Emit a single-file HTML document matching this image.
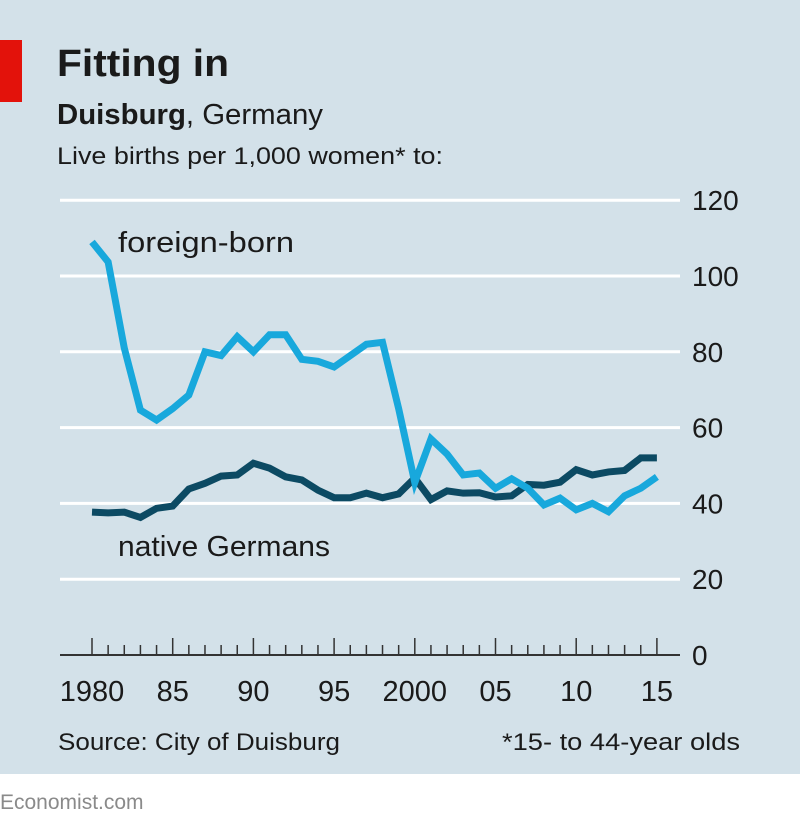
<!DOCTYPE html>
<html><head><meta charset="utf-8"><style>
body{margin:0;width:800px;height:825px;overflow:hidden;background:#fff;font-family:"Liberation Sans","DejaVu Sans",sans-serif}
#panel{position:absolute;left:0;top:0;width:800px;height:774px;background:#d3e1e9}
</style></head><body>
<div id="panel"></div>
<svg width="800" height="825" style="position:absolute;left:0;top:0">
<rect x="0" y="40" width="22" height="62" fill="#e3120b"/>
<text x="57" y="76" font-size="38" font-weight="bold" fill="#1a1a1a" textLength="172" lengthAdjust="spacingAndGlyphs">Fitting in</text>
<text x="57" y="124" font-size="29" fill="#1a1a1a" textLength="266" lengthAdjust="spacingAndGlyphs"><tspan font-weight="bold">Duisburg</tspan>, Germany</text>
<text x="57" y="164" font-size="24" fill="#1a1a1a" textLength="386" lengthAdjust="spacingAndGlyphs">Live births per 1,000 women* to:</text>
<g id="grid"></g><g id="ticks"></g><g id="lines"></g>
<text x="118" y="252" font-size="29" fill="#1a1a1a" textLength="176" lengthAdjust="spacingAndGlyphs">foreign-born</text>
<text x="118" y="556" font-size="29" fill="#1a1a1a" textLength="212" lengthAdjust="spacingAndGlyphs">native Germans</text>
<text x="58" y="750" font-size="24" fill="#1a1a1a" textLength="282" lengthAdjust="spacingAndGlyphs">Source: City of Duisburg</text>
<text x="502" y="750" font-size="24" fill="#1a1a1a" textLength="238" lengthAdjust="spacingAndGlyphs">*15- to 44-year olds</text>
<text x="0" y="809" font-size="21" fill="#8a8a8a">Economist.com</text>
</svg>
<script>
const years=[1980,1981,1982,1983,1984,1985,1986,1987,1988,1989,1990,1991,1992,1993,1994,1995,1996,1997,1998,1999,2000,2001,2002,2003,2004,2005,2006,2007,2008,2009,2010,2011,2012,2013,2014,2015];
const foreignBorn=[109,103.7,81,64.6,62,65,68.6,80,79,84,80,84.5,84.5,78,77.5,76,79,82,82.5,65,45.5,57,53,47.5,48,44,46.5,44,39.6,41.4,38.3,40,37.8,42,44,47];
const nativeGermans=[37.7,37.5,37.7,36.3,38.7,39.3,43.8,45.3,47.2,47.5,50.6,49.3,47,46.2,43.5,41.5,41.5,42.7,41.5,42.5,46.7,41,43.3,42.7,42.8,41.7,42,45,44.8,45.6,48.9,47.5,48.3,48.7,52,52];
const yTicks=[0,20,40,60,80,100,120];
const xLabels=[[1980,"1980"],[1985,"85"],[1990,"90"],[1995,"95"],[2000,"2000"],[2005,"05"],[2010,"10"],[2015,"15"]];
const NS="http://www.w3.org/2000/svg";
const X=y=>92+(y-1980)*16.14, Y=v=>655-v*3.79;
function mk(t,a,p){const e=document.createElementNS(NS,t);for(const k in a)e.setAttribute(k,a[k]);p.appendChild(e);return e;}
const g=document.getElementById('grid'),tk=document.getElementById('ticks'),ln=document.getElementById('lines');
yTicks.forEach(v=>{
 const l=mk('line',{x1:60,x2:680,y1:Y(v),y2:Y(v),stroke:v===0?'#333':'#fff','stroke-width':v===0?2:3},g);
 
 
 const t=mk('text',{x:692,y:Y(v)+10,'font-size':28,fill:'#1a1a1a'},g);t.textContent=v;
 
 
});
for(let y=1980;y<=2015;y++){
 const m=(y%5===0);
 const l=mk('line',{x1:X(y),x2:X(y),y1:Y(0)-(m?17:10),y2:Y(0),stroke:'#333','stroke-width':1.5},tk);
 
 
}
xLabels.forEach(([y,s])=>{
 const t=mk('text',{x:X(y),y:701,'font-size':29,fill:'#1a1a1a','text-anchor':'middle'},tk);t.textContent=s;
 
 
});
function series(vals,col,name){
 const p=mk('polyline',{points:vals.map((v,i)=>X(years[i])+','+Y(v)).join(' '),fill:'none',stroke:col,'stroke-width':7,'stroke-linejoin':'miter'},ln);
 
 
}
series(nativeGermans,'#0c4a63','line-native-germans');
series(foreignBorn,'#18a8dc','line-foreign-born');
</script>
</body></html>
